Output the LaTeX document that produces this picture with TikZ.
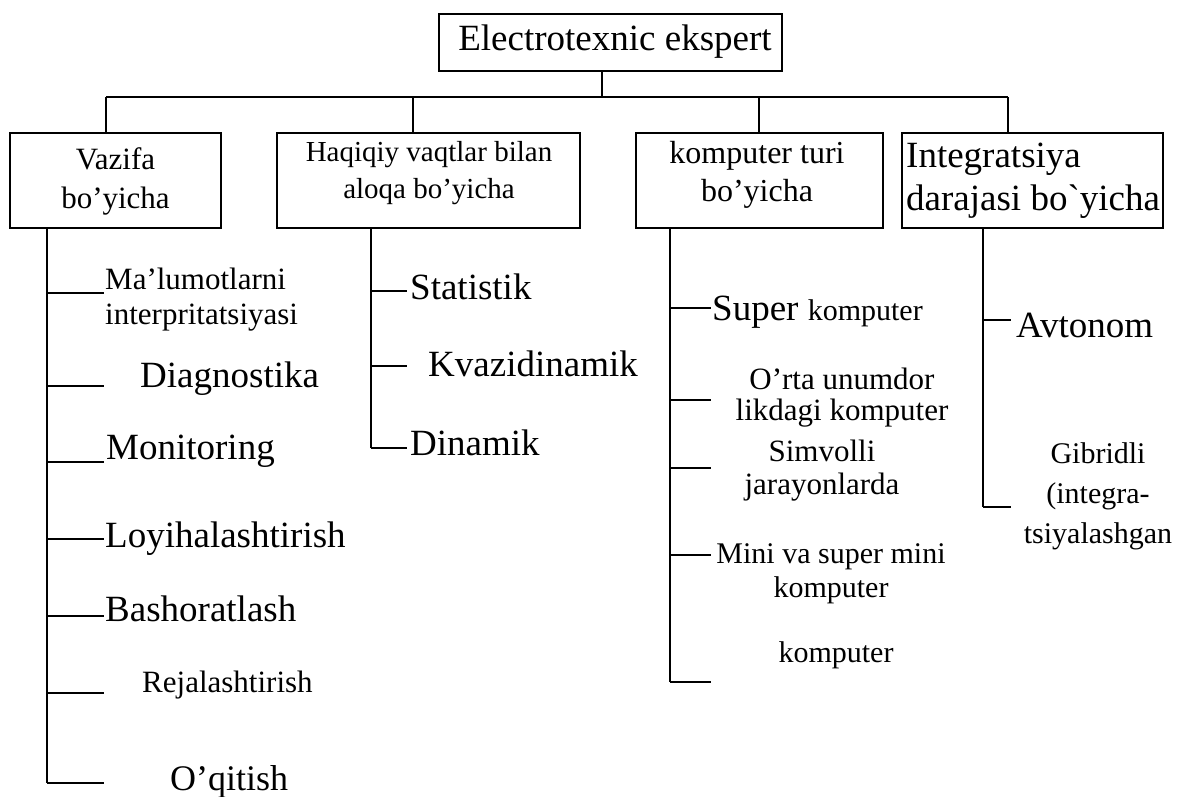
\documentclass[tikz,border=0pt]{standalone}
\usepackage{fontspec}
\setmainfont{Liberation Serif}[Ligatures=TeXOff]
\usetikzlibrary{positioning}
\newcommand{\fsz}[2]{\fontsize{#1}{#2}\selectfont}
\tikzset{
  box/.style={draw, line width=1.6pt, inner sep=0pt},
  link/.style={line width=2.2pt},
  item/.style={inner sep=0pt, anchor=base west, align=left},
  citem/.style={inner sep=0pt, anchor=base, align=center},
}

\begin{document}
\begin{tikzpicture}[x=1pt, y=-1pt]
  \useasboundingbox (0,0) rectangle (1186,796);
  % root box
  \node[box, minimum width=343pt, minimum height=57pt] (root) at (610.5,42.5) {};
  \node[citem, font=\fsz{37}{42}] (root-t) at (615,50) {Electrotexnic ekspert};
  % category boxes (base of a multi-line node = its last line)
  \node[box, minimum width=211pt, minimum height=95pt] (vazifa) at (115.5,180.5) {};
  \node[citem, font=\fsz{31}{39}] (vazifa-t) at (115.5,208) {Vazifa\\bo’yicha};
  \node[box, minimum width=303pt, minimum height=95pt] (haqiq) at (428.5,180.5) {};
  \node[citem, font=\fsz{29}{37}] (haqiq-t) at (429,198) {Haqiqiy vaqtlar bilan\\aloqa bo’yicha};
  \node[box, minimum width=247pt, minimum height=95pt] (komp) at (759.5,180.5) {};
  \node[citem, font=\fsz{32}{38}] (komp-t) at (757,201) {komputer turi\\bo’yicha};
  \node[box, minimum width=261pt, minimum height=95pt] (integ) at (1032.5,180.5) {};
  \node[item, font=\fsz{37}{43}] (integ-t) at (906,210) {Integratsiya\\darajasi bo`yicha};
  % bus
  \coordinate (j0) at (602,97);
  \coordinate (j1) at (106,97);
  \coordinate (j2) at (413,97);
  \coordinate (j3) at (759,97);
  \coordinate (j4) at (1008,97);
  \draw[link] (root.south -| j0) -- (j0);
  \draw[link] (j1) -- (j4);
  \draw[link] (j1) -- (j1 |- vazifa.north);
  \draw[link] (j2) -- (j2 |- haqiq.north);
  \draw[link] (j3) -- (j3 |- komp.north);
  \draw[link] (j4) -- (j4 |- integ.north);
  % stems
  \coordinate (s1) at (47,783);
  \coordinate (s2) at (371,448);
  \coordinate (s3) at (670,682);
  \coordinate (s4) at (983,507);
  \draw[link] (vazifa.south -| s1) -- (s1);
  \draw[link] (haqiq.south -| s2) -- (s2);
  \draw[link] (komp.south -| s3) -- (s3);
  \draw[link] (integ.south -| s4) -- (s4);
  % branches
  \foreach \y [count=\i] in {293,386,462,539,616,693,783}
    \draw[link] (s1 |- 0,\y) coordinate (b1-\i) -- ++(57,0);
  \foreach \y/\l [count=\i] in {291/36,366/36,448/36}
    \draw[link] (s2 |- 0,\y) coordinate (b2-\i) -- ++(\l,0);
  \foreach \y [count=\i] in {308,400,468,555,682}
    \draw[link] (s3 |- 0,\y) coordinate (b3-\i) -- ++(41,0);
  \foreach \y [count=\i] in {320,507}
    \draw[link] (s4 |- 0,\y) coordinate (b4-\i) -- ++(28,0);
  % items: vazifa
  \node[item, font=\fsz{31}{35}] (malum) at (105,324) {Ma’lumotlarni\\interpritatsiyasi};
  \node[item, font=\fsz{37}{42}] (diagn) at (140,387) {Diagnostika};
  \node[item, font=\fsz{37}{42}] (monit) at (106,459) {Monitoring};
  \node[item, font=\fsz{37}{42}] (loyih) at (105,547) {Loyihalashtirish};
  \node[item, font=\fsz{37}{42}] (bashor) at (105,621) {Bashoratlash};
  \node[item, font=\fsz{31}{35}] (rejal) at (142,692) {Rejalashtirish};
  \node[item, font=\fsz{36}{40}] (oqit) at (170,790) {O’qitish};
  % items: haqiqiy vaqt
  \node[item, font=\fsz{37}{42}] (stat) at (410,299) {Statistik};
  \node[item, font=\fsz{37}{42}] (kvazi) at (428,376) {Kvazidinamik};
  \node[item, font=\fsz{37}{42}] (dinam) at (410,455) {Dinamik};
  % items: komputer turi
  \node[item] (super) at (712,320) {\fsz{37}{42}Super \fsz{30}{34}komputer};
  \node[citem, font=\fsz{31}{31}] (ortaun) at (842,420) {O’rta unumdor\\likdagi komputer};
  \node[citem, font=\fsz{31}{33}] (simv) at (822,494) {Simvolli\\jarayonlarda};
  \node[citem, font=\fsz{30}{34}] (mini) at (831,597) {Mini va super mini\\komputer};
  \node[citem, font=\fsz{30}{34}] (kompu) at (836,662) {komputer};
  % items: integratsiya
  \node[item, font=\fsz{37}{42}] (avton) at (1016,337) {Avtonom};
  \node[citem, font=\fsz{30}{40}] (gibr) at (1098,543) {Gibridli\\(integra-\\tsiyalashgan};
\end{tikzpicture}
\end{document}
